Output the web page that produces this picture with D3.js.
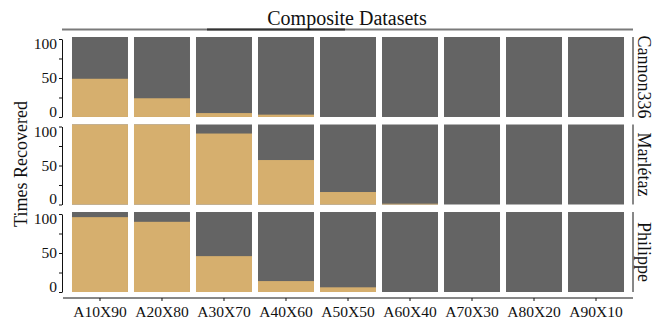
<!DOCTYPE html>
<html>
<head>
<meta charset="utf-8">
<script src="https://cdn.jsdelivr.net/npm/d3@7"></script>
<style>
  body { margin: 0; background: #fff; }
  text { font-family: "Liberation Serif", "Times New Roman", serif; fill: #111; }
</style>
</head>
<body>
<div id="chart"></div>
<script>
// data: percent of times recovered (out of 100) per composite dataset
var mixes = ["A10X90", "A20X80", "A30X70", "A40X60", "A50X50", "A60X40", "A70X30", "A80X20", "A90X10"];
var sources = ["Cannon336", "Marlétaz", "Philippe"];
var cannon336 = [49, 24, 5, 3, 0, 0, 0, 0, 0];
var marletaz  = [100, 100, 91, 57, 16, 1, 0, 0, 0];
var philippe  = [96, 90, 46, 14, 6, 0, 0, 0, 0];
var yTicks = [0, 25, 50, 75, 100];
var yLabels = [0, 50, 100];

var recovered = {"Cannon336": cannon336, "Marlétaz": marletaz, "Philippe": philippe};

var W = 663, H = 320;
var svg = d3.select("#chart").append("svg")
    .attr("width", W)
    .attr("height", H);

var x = d3.scaleBand()
    .domain(mixes)
    .range([63, 633])
    .paddingInner(0.097)
    .paddingOuter(0.145);

var row = d3.scaleBand()
    .domain(sources)
    .range([37, 292])
    .paddingInner(0.086);

var tan = "#d6af6e", grey = "#646464";

// title with the strip line under it
svg.append("line")
    .attr("x1", 62).attr("x2", 633)
    .attr("y1", 29.5).attr("y2", 29.5)
    .attr("stroke", "#7a7a7a").attr("stroke-width", 2);
svg.append("line")
    .attr("x1", 207).attr("x2", 345)
    .attr("y1", 29.5).attr("y2", 29.5)
    .attr("stroke", "#333").attr("stroke-width", 2);
svg.append("text")
    .attr("x", 347).attr("y", 25)
    .attr("text-anchor", "middle")
    .style("font-size", "20px")
    .text("Composite Datasets");

sources.forEach(function(s) {
    var top = row(s);
    var y = d3.scaleLinear().domain([0, 100]).range([top + row.bandwidth(), top + 2]);
    var g = svg.append("g");
    var rows = mixes.map(function(m, i) { return {mix: m, val: recovered[s][i]}; });

    // not recovered (full bar behind)
    g.selectAll(".miss")
        .data(rows)
        .enter()
        .append("rect")
        .attr("x", d => x(d.mix))
        .attr("y", top)
        .attr("width", x.bandwidth())
        .attr("height", row.bandwidth())
        .attr("fill", grey);

    g.selectAll(".hit")
        .data(rows)
        .enter()
        .append("rect")
        .attr("x", d => x(d.mix))
        .attr("y", d => d.val >= 100 ? top : y(d.val))
        .attr("width", x.bandwidth())
        .attr("height", d => d.val >= 100 ? row.bandwidth() : y(0) - y(d.val))
        .attr("fill", tan);

    var ax = svg.append("g")
        .attr("transform", "translate(62,0)")
        .call(d3.axisLeft(y).tickValues(yTicks).tickSize(3).tickSizeOuter(0)
            .tickFormat(d => yLabels.indexOf(d) >= 0 ? d : ""));
    ax.select(".domain").attr("stroke", "#111");
    ax.selectAll(".tick line").attr("stroke", "#111");
    ax.selectAll("text")
        .style("font-family", "Liberation Serif")
        .style("font-size", "15.5px")
        .attr("fill", "#111")
        .attr("x", -5)
        .attr("dy", d => d == 0 ? "-0.05em" : d == 100 ? "0.62em" : "0.3em");

    // strip on the right
    svg.append("line")
        .attr("x1", 633).attr("x2", 633)
        .attr("y1", top).attr("y2", top + row.bandwidth())
        .attr("stroke", "#111").attr("stroke-width", 1);
    svg.append("text")
        .attr("transform", "translate(638," + (top + row.bandwidth() / 2) + ") rotate(90)")
        .attr("text-anchor", "middle")
        .style("font-size", "18px")
        .text(s);
});

var xa = svg.append("g")
    .attr("transform", "translate(0,298)")
    .call(d3.axisBottom(x).tickSize(3).tickSizeOuter(0));
xa.select(".domain").attr("stroke", "#111").attr("d", "M63,0H633");
xa.selectAll(".tick line").attr("stroke", "#111");
xa.selectAll("text")
    .style("font-family", "Liberation Serif")
    .style("font-size", "15.5px")
    .attr("fill", "#111")
    .attr("y", 6)
    .attr("dy", "0.85em");

svg.append("text")
    .attr("transform", "translate(27,164) rotate(-90)")
    .attr("text-anchor", "middle")
    .style("font-size", "18px")
    .text("Times Recovered");
</script>
</body>
</html>
